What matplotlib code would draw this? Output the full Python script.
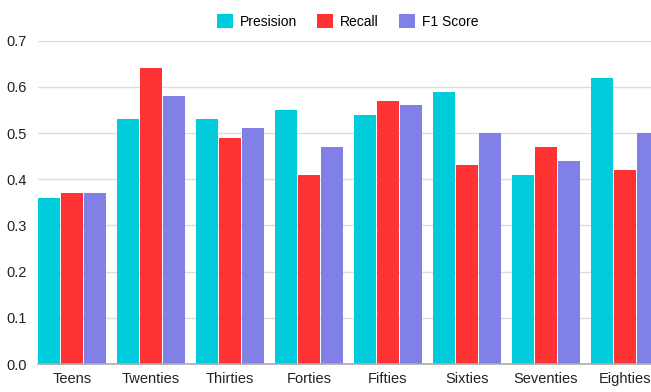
import numpy as np
import matplotlib
matplotlib.use("Agg")
import matplotlib.pyplot as plt

# ---- data ----
age_groups = ["Teens", "Twenties", "Thirties", "Forties", "Fifties", "Sixties", "Seventies", "Eighties"]
precision = [0.36, 0.53, 0.53, 0.55, 0.54, 0.59, 0.41, 0.62]
recall = [0.37, 0.64, 0.49, 0.41, 0.57, 0.43, 0.47, 0.42]
f1_score = [0.37, 0.58, 0.51, 0.47, 0.56, 0.50, 0.44, 0.50]

series_names = ["Presision", "Recall", "F1 Score"]
colors = ["#00CCDB", "#FF3333", "#8080E6"]

plt.rcParams['font.family'] = ['Liberation Sans', 'DejaVu Sans']

fig = plt.figure(figsize=(6.51, 3.92), dpi=100)
ax = fig.add_axes([38 / 651, 28 / 392, 1 - 38 / 651, (364 - 40.7) / 392])

x = np.arange(len(age_groups))
step = 23 / 79
bar_w = 21.5 / 79
for i, (vals, name) in enumerate(zip([precision, recall, f1_score], series_names)):
    ax.bar(x + (i - 1) * step, vals, width=bar_w, color=colors[i], label=name, zorder=3)

ax.set_ylim(0, 0.7)
ax.set_xlim(-step - bar_w / 2, 7.33)
ax.set_yticks(np.arange(0, 0.71, 0.1))
ax.set_yticklabels([f"{v:.1f}" for v in np.arange(0, 0.71, 0.1)])
ax.set_xticks(x)
ax.set_xticklabels(age_groups)
ax.tick_params(axis='both', length=0, labelsize=10.5, colors="#222222")
ax.tick_params(axis='y', pad=8)
ax.tick_params(axis='x', pad=6)

ax.grid(axis='y', color="#DDDDDD", linewidth=1, zorder=0)
for s in ["top", "right", "left"]:
    ax.spines[s].set_visible(False)
ax.spines["bottom"].set_color("#AAAAAA")
ax.spines["bottom"].set_linewidth(1.2)
ax.spines["bottom"].set_zorder(4)

ax.legend(loc="upper center", bbox_to_anchor=(0.505, 1.12), ncol=3, frameon=False,
          fontsize=10, handlelength=1.15, handleheight=1.15, columnspacing=1.45, handletextpad=0.5)

fig.savefig("out.png", dpi=100)
